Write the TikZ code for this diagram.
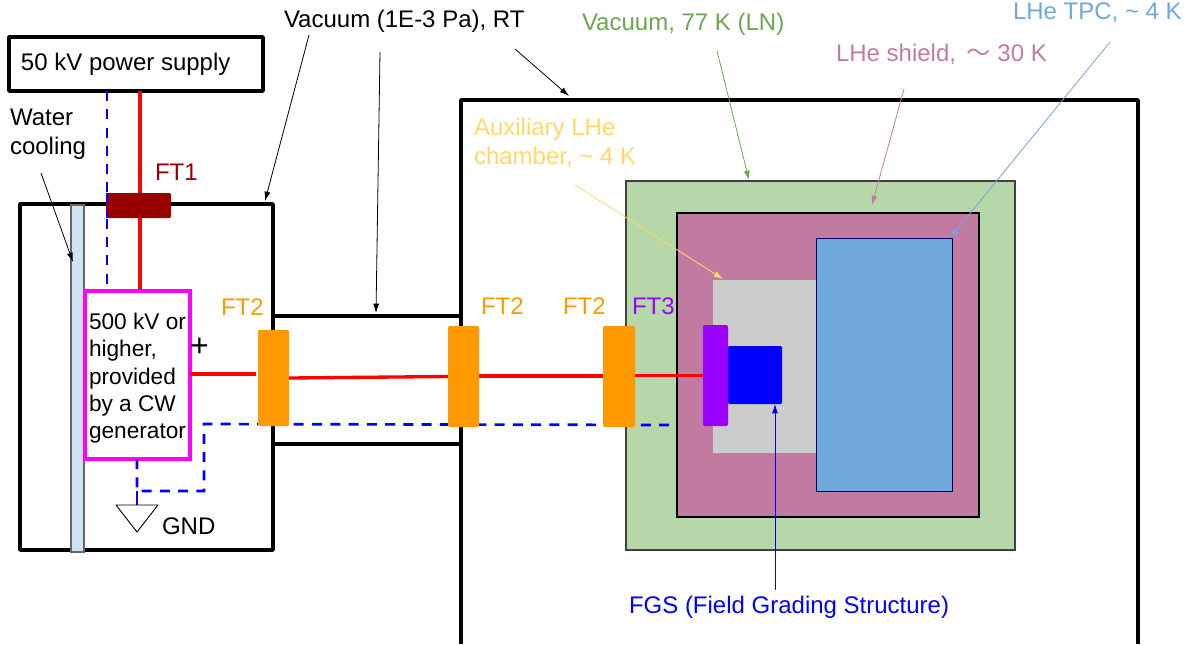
\documentclass[tikz,border=0pt]{standalone}
\usepackage{fontspec}
\setmainfont{Liberation Sans}
\newfontfamily\cjkfont{Noto Sans CJK SC}
\usetikzlibrary{arrows.meta,calc}
\definecolor{ftorange}{HTML}{FF9900}
\definecolor{ftpurple}{HTML}{9900FF}
\definecolor{ftred}{HTML}{990000}
\definecolor{ngreen}{HTML}{B6D7A8}
\definecolor{tgreen}{HTML}{6AA84F}
\definecolor{nshield}{HTML}{C27BA0}
\definecolor{ntpc}{HTML}{6FA8DC}
\definecolor{taux}{HTML}{FFD966}
\definecolor{naux}{HTML}{CCCCCC}
\definecolor{nwater}{HTML}{CFE2F3}
\definecolor{cwmag}{HTML}{FF00FF}
\newcommand{\rbox}[6][]{\node[#1,anchor=north west,inner sep=0pt,outer sep=0pt,minimum width=(#5-#3)*0.75pt,minimum height=(#6-#4)*0.75pt] (#2) at (#3,#4) {};}
\tikzset{
 x=0.75pt,y=-0.75pt,
 txt/.style={font=\fontsize{18pt}{21.75pt}\selectfont,inner sep=0pt,outer sep=0pt,anchor=west},
 heavy/.style={draw=black,line width=2.8pt,line join=round},
 hv/.style={draw=red,line width=2.5pt},
 gnd/.style={draw=blue,line width=2pt,dash pattern=on 7.5pt off 6.2pt},
 ptr/.style={line width=0.6pt,-{Latex[length=7pt,width=4.5pt]}},
 ftbox/.style={fill=#1,rounded corners=1pt},
}
\begin{document}
\begin{tikzpicture}
\useasboundingbox (0,0) rectangle (1194,644);
% vacuum enclosures
\rbox[heavy,fill=white]{psu}{9}{37}{263}{91}
\rbox[heavy]{vac}{20}{204}{273}{550}
\coordinate (rtl) at (461,644);
\coordinate (rtc) at (461,100);
\coordinate (rtr) at (1138,100);
\coordinate (rtb) at (1138,644);
\draw[heavy] (rtl) -- (rtc) -- (rtr) -- (rtb);
\coordinate (tubeal) at (273,316);
\coordinate (tubear) at (461,316);
\coordinate (tubebl) at (273,444);
\coordinate (tubebr) at (461,444);
\draw[black,line width=2.4pt] (tubeal) -- (tubear) (tubebl) -- (tubebr);
% cryostat layers
\rbox[fill=ngreen,draw=black!75,line width=0.9pt]{ln}{626}{181}{1015}{550}
\rbox[fill=nshield,draw=black,line width=1.2pt]{shield}{677}{213}{979}{517}
\rbox[fill=naux]{aux}{713}{280}{816}{453}
\rbox[fill=ntpc,draw=black!60!blue,line width=0.7pt]{tpc}{816}{238}{952}{491}
% water
\rbox[fill=nwater,draw=black!60,line width=1pt]{water}{71}{205}{84}{552}
% generator
\rbox[draw=cwmag,fill=white,line width=2.5pt]{cw}{85}{291}{190}{459}
% wires
\coordinate (psured) at (140,91);
\coordinate (psublue) at (107,91);
\coordinate (bluetop) at (107,284);
\coordinate (gj) at (137,491);
\coordinate (gk) at (204,491);
\coordinate (gl) at (204,424);
\coordinate (gm) at (677,425);
\coordinate (cwb) at (137,459);
\coordinate (gtop) at (137,505);
\draw[gnd] (psublue) -- (bluetop);
\draw[hv] (psured) -- (140,290);
\draw[gnd] (cwb) -- (gj) -- (gk) -- (gl) -- (gm);
\draw[blue,line width=1.6pt] (gj) -- (gtop);
\rbox[ftbox=ftorange]{fta}{258}{330}{289}{426}
\rbox[ftbox=ftorange]{ftb}{448}{326}{479}{427}
\rbox[ftbox=ftorange]{ftc}{603}{326}{635}{427}
\rbox[ftbox=ftpurple]{ftd}{703}{325}{728}{426}
\rbox[ftbox=blue]{fgs}{728}{346}{782}{404}
\rbox[ftbox=ftred]{fte}{106}{193}{171}{218}
\draw[hv] (cw.east |- 0,374) -- (256,374);
\draw[hv] (fta.east |- 0,378) -- (ftb.west |- 0,376.5);
\draw[hv] (ftb.east |- 0,376) -- (ftc.west |- 0,376);
\draw[hv] (ftc.east |- 0,375.5) -- (ftd.west |- 0,375.5);
\draw[gnd] (107,193) -- (107,218);
% ground symbol
\coordinate (gndl) at (116,505);
\coordinate (gndr) at (158,505);
\coordinate (gndb) at (137,532);
\draw[black,line width=0.7pt,line join=round] (gndl) -- (gndr) -- (gndb) -- cycle;
% labels
\node[txt] (lpsu) at (21,64) {50 kV power supply};
\node[txt,align=left] (lwater) at (10,134.5) {Water\\cooling};
\node[txt,align=left,anchor=north west,font=\fontsize{17pt}{20.5pt}\selectfont] (lcw) at (89,313) {500 kV or\\higher,\\provided\\by a CW\\generator};
\node[txt,font=\fontsize{24pt}{24pt}\selectfont] (lplus) at (190,347) {+};
\node[txt] (lgnd) at (162,526) {GND};
\node[txt,text=ftred] (lfta) at (155,172) {FT1};
\node[txt,text=ftorange] (lftb) at (221,307) {FT2};
\node[txt,text=ftorange] (lftc) at (481,306) {FT2};
\node[txt,text=ftorange] (lftd) at (563,306) {FT2};
\node[txt,text=ftpurple] (lfte) at (632,306) {FT3};
\node[txt] (lvac) at (284,21) {Vacuum (1E-3 Pa), RT};
\node[txt,text=tgreen] (lln) at (582,24) {Vacuum, 77 K (LN)};
\node[txt,text=nshield] (lsh) at (836,54) {LHe shield, \,{\cjkfont ～} 30 K};
\node[txt,text=ntpc] (ltpc) at (1013,13) {LHe TPC, \textasciitilde{} 4 K};
\node[txt,text=taux,align=left] (laux) at (474,142.5) {Auxiliary LHe\\chamber, \textasciitilde{} 4 K};
\node[txt,text=blue] (lfgs) at (629,607) {FGS (Field Grading Structure)};
% pointers
\coordinate (pa) at (309,35); \coordinate (pae) at (265,201);
\coordinate (pb) at (380,52); \coordinate (pbe) at (376,313);
\coordinate (pc) at (515,49); \coordinate (pce) at (569,96);
\coordinate (pd) at (717,51); \coordinate (pde) at (749,180);
\coordinate (pf) at (904,89); \coordinate (pfe) at (872,205);
\coordinate (pg) at (1110,42); \coordinate (pge) at (950,238);
\coordinate (ph) at (575,185); \coordinate (phe) at (723,279);
\coordinate (pi) at (775,590); \coordinate (pie) at (775,404);
\coordinate (pj) at (41,173); \coordinate (pje) at (73,262);
\draw[ptr] (pa) -- (pae);
\draw[ptr] (pb) -- (pbe);
\draw[ptr] (pc) -- (pce);
\draw[ptr,tgreen] (pd) -- (pde);
\draw[ptr,nshield] (pf) -- (pfe);
\draw[ptr,ntpc] (pg) -- (pge);
\draw[ptr,taux] (ph) -- (phe);
\draw[ptr,blue] (pi) -- (pie);
\draw[ptr] (pj) -- (pje);
\end{tikzpicture}
\end{document}
